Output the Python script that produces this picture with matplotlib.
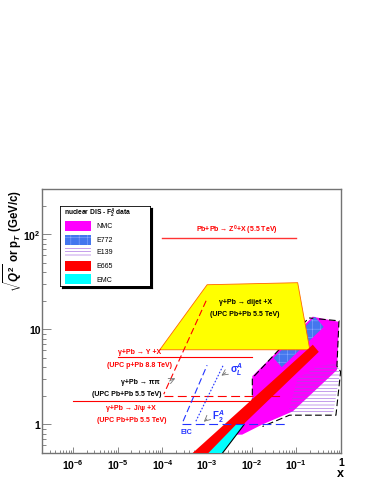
import numpy as np
import matplotlib
matplotlib.use('Agg')
import matplotlib.pyplot as plt
from matplotlib.patches import Polygon, Rectangle
from matplotlib.ticker import LogLocator, FixedLocator, NullFormatter

plt.rcParams['font.family'] = ['Liberation Sans', 'DejaVu Sans']
plt.rcParams['font.weight'] = 'bold'
plt.rcParams['mathtext.fontset'] = 'custom'
plt.rcParams['mathtext.rm'] = 'Liberation Sans:bold'
plt.rcParams['mathtext.bf'] = 'Liberation Sans:bold'
plt.rcParams['mathtext.it'] = 'Liberation Sans:bold:italic'
plt.rcParams['hatch.linewidth'] = 0.4

# nuclear DIS data regions (x, sqrt(Q^2))
nmc_x = [0.0103, 0.233, 0.90, 0.81, 0.083, 0.0174, 0.0061, 0.0033, 0.0103]
nmc_q = [3.22, 13.6, 12.0, 3.73, 1.37, 1.0, 0.78, 0.78, 1.59]
e772_x = [0.031, 0.047, 0.41, 0.26]
e772_q = [5.0, 4.0, 10.6, 13.6]
e139_x = [0.064, 0.66, 0.95, 0.81, 0.32, 0.107]
e139_q = [1.28, 1.28, 3.46, 4.42, 4.11, 3.07]
e665_x = [3.7e-4, 1.1e-3, 0.318, 0.233]
e665_q = [0.45, 0.45, 5.8, 6.9]
emc_x = [8.6e-4, 1.87e-3, 6.8e-3, 4.5e-3]
emc_q = [0.45, 0.45, 1.0, 1.0]
outline_x = [0.0103, 0.0103, 0.19, 0.90, 0.81, 0.98, 0.77, 0.07, 0.0174]
outline_q = [1.59, 3.07, 13.2, 12.3, 4.1, 3.6, 1.25, 1.25, 0.95]

# UPC dijet region
dijet_x = [8.7e-5, 1.0e-3, 0.107, 0.2]
dijet_q = [6.1, 29.5, 31.0, 6.1]
dijet_dash_x = [9.5e-4, 1.07e-4]
dijet_dash_q = [20.0, 2.08]

# process lines
z_x = [1e-4, 0.1];   z_q = 91.0
ups_x = [1e-5, 1e-2]; ups_q = 5.1
pipi_x = [1.1e-4, 0.05]; pipi_q = 2.0
jpsi_x = [1e-6, 1e-2]; jpsi_q = 1.75

# EIC
eic_x = [2.7e-4, 0.057]; eic_q = 1.0
f2_x = [2.9e-4, 1.0e-3]; f2_q = [1.08, 4.2]
sl_x = [5.6e-4, 2.3e-3]; sl_q = [1.08, 4.2]

xticks = [1e-6, 1e-5, 1e-4, 1e-3, 1e-2, 1e-1, 1]
xlabels = ['10$^{-6}$', '10$^{-5}$', '10$^{-4}$', '10$^{-3}$', '10$^{-2}$', '10$^{-1}$', '1']
yticks = [1, 10, 100]
ylabels = ['1', '10', '10$^{2}$']

RED = '#ff0000'
BLUE = '#2233ff'

fig = plt.figure(figsize=(3.74, 4.85), dpi=100)
ax = fig.add_axes([0.1123, 0.0639, 0.7995, 0.5443])
ax.set_xscale('log')
ax.set_yscale('log')
ax.set_xlim(2e-7, 1)
ax.set_ylim(0.5, 300)

def poly(xs, qs, fc, hatch=None, hc=None, z=1, ec='none', lw=0):
    ax.add_patch(Polygon(np.column_stack([xs, qs]), closed=True, facecolor=fc,
                         edgecolor=ec, lw=lw, zorder=z))
    if hatch:
        ax.add_patch(Polygon(np.column_stack([xs, qs]), closed=True, fill=False,
                             edgecolor=hc, hatch=hatch, lw=0, zorder=z + 0.1))

poly(nmc_x, nmc_q, '#ff00ff', z=2)
poly(e139_x, e139_q, 'none', '-----', '#9955dd', z=2.5)
ax.plot(outline_x, outline_q, color='k', lw=0.8, ls=(0, (6, 3)), zorder=2.6)
poly(e772_x, e772_q, '#4477ee', '++', '#88aaff', z=3)
poly(dijet_x, dijet_q, '#ffff00', z=4, ec='#ff6600', lw=0.6)
ax.plot(dijet_dash_x, dijet_dash_q, color=RED, lw=0.8, ls=(0, (6, 3)), zorder=4.5)
poly(e665_x, e665_q, '#ff0000', z=5)
poly(emc_x, emc_q, '#00ffff', z=6)
ax.plot(emc_x[1:3], emc_q[1:3], color='k', lw=0.8, zorder=6.5)

ax.plot(z_x, [z_q, z_q], color='#ff3333', lw=1.0, zorder=7)
ax.plot(ups_x, [ups_q, ups_q], color=RED, lw=0.8, zorder=7)
ax.plot(pipi_x, [pipi_q, pipi_q], color=RED, lw=0.8, ls=(0, (8, 4)), zorder=7)
ax.plot(jpsi_x, [jpsi_q, jpsi_q], color=RED, lw=0.8, zorder=7)

ax.plot(eic_x, [eic_q, eic_q], color=BLUE, lw=0.8, ls=(0, (8, 4)), zorder=7)
ax.plot(f2_x, f2_q, color=BLUE, lw=0.8, ls=(0, (6, 3)), zorder=7)
ax.plot(sl_x, sl_q, color=BLUE, lw=0.8, ls=(0, (1.5, 1.5)), zorder=7)

fs = 5
ax.text(4.7e-3, 97, 'Pb+Pb → Z$^{0}$+X (5.5 TeV)', color=RED, fontsize=fs, ha='center', va='bottom', zorder=8)
ax.text(7.2e-3, 19.5, 'γ+Pb → dijet +X', color='k', fontsize=fs, ha='center', va='center', zorder=8)
ax.text(7.0e-3, 14.6, '(UPC Pb+Pb 5.5 TeV)', color='k', fontsize=fs, ha='center', va='center', zorder=8)
ax.text(3.1e-5, 5.9, 'γ+Pb → Υ +X', color=RED, fontsize=fs, ha='center', va='center', zorder=8)
ax.text(3.1e-5, 4.3, '(UPC p+Pb 8.8 TeV)', color=RED, fontsize=fs, ha='center', va='center', zorder=8)
ax.text(3.2e-5, 2.85, 'γ+Pb → ππ', color='k', fontsize=fs, ha='center', va='center', zorder=8)
ax.text(1.6e-5, 2.13, '(UPC Pb+Pb 5.5 TeV)', color='k', fontsize=fs, ha='center', va='center', zorder=8)
ax.text(2.0e-5, 1.51, 'γ+Pb → J/ψ +X', color=RED, fontsize=fs, ha='center', va='center', zorder=8)
ax.text(2.0e-5, 1.13, '(UPC Pb+Pb 5.5 TeV)', color=RED, fontsize=fs, ha='center', va='center', zorder=8)

ax.annotate('', xy=(2.2e-4, 3.14), xytext=(1.25e-4, 2.78),
            arrowprops=dict(arrowstyle='->', color='0.45', lw=0.6), zorder=8)
ax.annotate('', xy=(1.86e-3, 3.14), xytext=(2.95e-3, 3.64),
            arrowprops=dict(arrowstyle='->', color='0.45', lw=0.6), zorder=8)
ax.annotate('', xy=(7.6e-4, 1.02), xytext=(1.1e-3, 1.19),
            arrowprops=dict(arrowstyle='->', color='0.45', lw=0.6), zorder=8)
ax.text(4.5e-3, 3.82, 'σ$_{L}^{A}$', color=BLUE, fontsize=7, ha='center', va='center', zorder=8)
ax.text(1.77e-3, 1.25, 'F$_{2}^{A}$', color=BLUE, fontsize=7, ha='center', va='center', zorder=8)
ax.text(3.5e-4, 0.84, 'EIC', color=BLUE, fontsize=fs, ha='center', va='center', zorder=8)

# axes style
for s in ['left', 'bottom', 'right', 'top']:
    ax.spines[s].set_color('0.45')
    ax.spines[s].set_linewidth(1.0)
ax.xaxis.set_major_locator(FixedLocator(xticks))
ax.set_xticklabels(xlabels)
ax.yaxis.set_major_locator(FixedLocator(yticks))
ax.set_yticklabels(ylabels)
ax.xaxis.set_minor_locator(LogLocator(base=10, subs=np.arange(2, 10), numticks=20))
ax.yaxis.set_minor_locator(LogLocator(base=10, subs=np.arange(2, 10), numticks=20))
ax.xaxis.set_minor_formatter(NullFormatter())
ax.yaxis.set_minor_formatter(NullFormatter())
ax.tick_params(axis='x', which='major', direction='in', length=4.5, width=0.6, color='0.45',
               labelsize=7.5, pad=3, top=False)
ax.tick_params(axis='x', which='minor', direction='in', length=2.5, width=0.6, color='0.45', top=False)
ax.tick_params(axis='y', which='major', direction='in', length=6.5, width=0.6, color='0.45',
               labelsize=7.5, pad=1, right=False)
ax.tick_params(axis='y', which='minor', direction='in', length=3.2, width=0.6, color='0.45', right=False)

fig.text(13 / 374, 1 - 190 / 485, r'$\sqrt{Q^{2}}$ or p$_{T}$ (GeV/c)', rotation=90,
         ha='center', va='top', fontsize=8.3)
fig.text(340 / 374, 1 - 474 / 485, 'x', ha='center', va='center', fontsize=9)

# legend box
leg_names = ['NMC', 'E772', 'E139', 'E665', 'EMC']
leg_fc = ['#ff00ff', '#4477ee', 'white', '#ff0000', '#00ffff']
leg_hatch = [None, '++', '-----', None, None]
leg_hc = ['#ff88ff', '#88aaff', '#9955dd', '#ff7777', '#99ffff']
lx0, ly0, lw_, lh_ = 60 / 374, 1 - 287 / 485, 90 / 374, 80 / 485
shadow = fig.add_axes([lx0 + 2 / 374, ly0 - 2 / 485, lw_, lh_])
shadow.set_facecolor('k')
shadow.set_xticks([]); shadow.set_yticks([])
lax = fig.add_axes([lx0, ly0, lw_, lh_])
lax.set_xlim(0, 1); lax.set_ylim(0, 1)
lax.set_xticks([]); lax.set_yticks([])
for s in lax.spines.values():
    s.set_color('k'); s.set_linewidth(0.6)
lax.text(0.04, 0.925, 'nuclear DIS - F$_{2}^{A}$ data', fontsize=4.8, ha='left', va='center')
rows = [0.75, 0.575, 0.425, 0.25, 0.0875]
for name, fc, h, hc, yy in zip(leg_names, leg_fc, leg_hatch, leg_hc, rows):
    lax.add_patch(Rectangle((0.056, yy - 0.0625), 0.29, 0.125, facecolor=fc, edgecolor='none'))
    if h:
        lax.add_patch(Rectangle((0.056, yy - 0.0625), 0.29, 0.125, fill=False, edgecolor=hc,
                                hatch=h, lw=0))
    lax.text(0.40, yy, name, fontsize=5, fontweight='normal', ha='left', va='center')

fig.savefig('out.png', dpi=100)
